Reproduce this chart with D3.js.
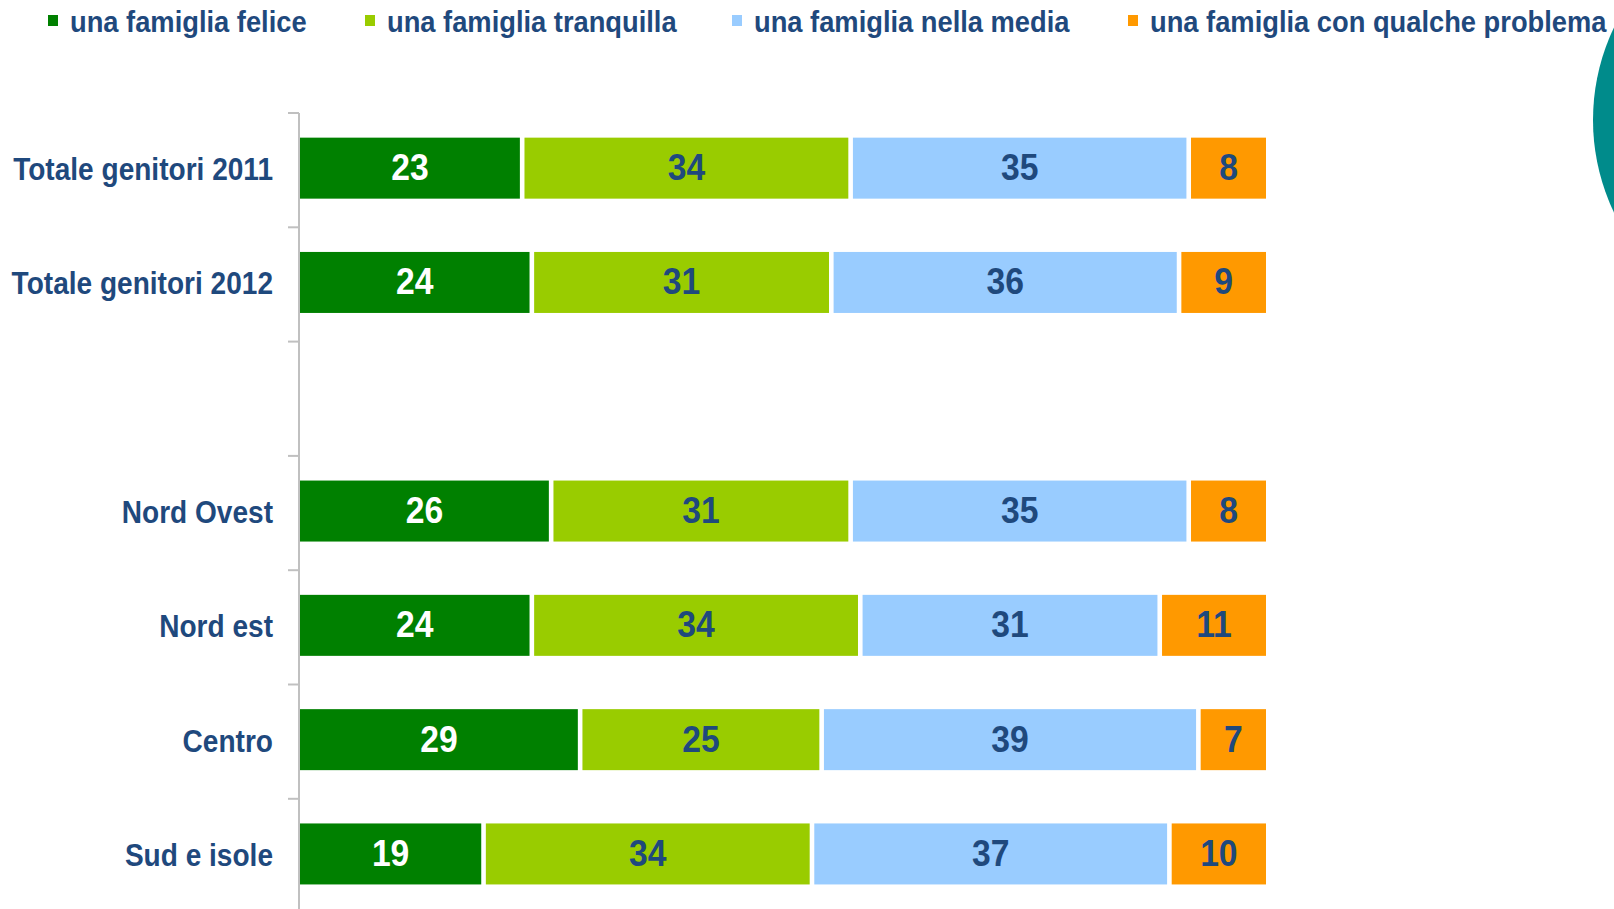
<!DOCTYPE html>
<html>
<head>
<meta charset="utf-8">
<script src="https://cdn.jsdelivr.net/npm/d3@7"></script>
<style>
    body { margin: 0; background: #fff; }
    svg { display: block; }
    text { font-family: "Liberation Sans", Arial, sans-serif; font-weight: bold; }
</style>
</head>
<body>
<svg id="chart"></svg>
<script>
// Rows (the empty one is the spacer between totals and regions)
const categories = ["Totale genitori 2011", "Totale genitori 2012", "", "Nord Ovest", "Nord est", "Centro", "Sud e isole"];

// Series values (percent)
const felice = [23, 24, null, 26, 24, 29, 19];
const tranquilla = [34, 31, null, 31, 34, 25, 34];
const media = [35, 36, null, 35, 31, 39, 37];
const problema = [8, 9, null, 8, 11, 7, 10];

const seriesNames = ["una famiglia felice", "una famiglia tranquilla", "una famiglia nella media", "una famiglia con qualche problema"];
const seriesColors = ["#008000", "#99cc00", "#99ccff", "#ff9900"];
const labelColors = ["#ffffff", "#1f497d", "#1f497d", "#1f497d"];
const legendX = [70, 387, 754, 1150];

const width = 1614, height = 909;
const textBlue = "#1f497d";
const squeeze = 0.91; // text in the reference is slightly condensed

const svg = d3.select("#chart")
    .attr("width", width)
    .attr("height", height);

// Teal circle peeking in from the right edge
svg.append("circle")
    .attr("cx", 1807)
    .attr("cy", 120)
    .attr("r", 214)
    .attr("fill", "#008b8b");

// Scales
const x = d3.scaleLinear().domain([0, 100]).range([300, 1266]);
const y = d3.scaleBand().domain(categories.map((c, i) => i)).range([113, 113 + 7 * 114.3]);
const barH = 61;

// Axis line and ticks at band boundaries
const axis = svg.append("g");
axis.append("line")
    .attr("x1", 299).attr("x2", 299)
    .attr("y1", y(0)).attr("y2", height)
    .attr("stroke", "#c0c0c0").attr("stroke-width", 2);
axis.selectAll("line.tick")
    .data(categories.map((c, i) => i))
    .enter()
    .append("line")
    .attr("class", "tick")
    .attr("x1", 288).attr("x2", 299)
    .attr("y1", d => y(d)).attr("y2", d => y(d))
    .attr("stroke", "#c0c0c0").attr("stroke-width", 2);

// Stack the data
const rows = categories.map((c, i) => ({
    idx: i,
    name: c,
    values: [felice[i], tranquilla[i], media[i], problema[i]]
})).filter(r => r.name !== "");

const segments = [];
rows.forEach(r => {
    let acc = 0;
    r.values.forEach((v, s) => {
        segments.push({ idx: r.idx, s: s, v: v, x0: acc, x1: acc + v });
        acc += v;
    });
});

const gap = 2.3;
const bars = svg.append("g");
bars.selectAll("rect")
    .data(segments)
    .enter()
    .append("rect")
    .attr("x", d => x(d.x0) + (d.s > 0 ? gap : 0))
    .attr("width", d => x(d.x1) - x(d.x0) - (d.s > 0 ? gap : 0) - (d.s < 3 ? gap : 0))
    .attr("y", d => y(d.idx) + y.bandwidth() / 2 - 2 - barH / 2)
    .attr("height", barH)
    .attr("fill", d => seriesColors[d.s]);

// Value labels
bars.selectAll("text")
    .data(segments)
    .enter()
    .append("text")
    .attr("transform", d => {
        const cx = (x(d.x0) + x(d.x1)) / 2 + (d.s > 0 ? gap / 2 : 0) - (d.s < 3 ? gap / 2 : 0);
        const cy = y(d.idx) + y.bandwidth() / 2 - 2 + 12;
        return `translate(${cx},${cy}) scale(${squeeze},1)`;
    })
    .attr("text-anchor", "middle")
    .style("font-size", "37px")
    .attr("fill", d => labelColors[d.s])
    .text(d => d.v);

// Category labels
svg.append("g")
    .selectAll("text")
    .data(rows)
    .enter()
    .append("text")
    .attr("transform", d => `translate(273,${y(d.idx) + y.bandwidth() / 2 - 2 + 12}) scale(0.92,1)`)
    .attr("text-anchor", "end")
    .style("font-size", "30.5px")
    .attr("fill", textBlue)
    .text(d => d.name);

// Legend
const legend = svg.append("g")
    .selectAll("g")
    .data(seriesNames)
    .enter()
    .append("g");

legend.append("rect")
    .attr("x", (d, i) => legendX[i] - 22)
    .attr("y", 15)
    .attr("width", 10)
    .attr("height", 11)
    .attr("fill", (d, i) => seriesColors[i]);

legend.append("text")
    .attr("transform", (d, i) => `translate(${legendX[i]},32) scale(${squeeze},1)`)
    .style("font-size", "30px")
    .attr("fill", textBlue)
    .text(d => d);
</script>
</body>
</html>
